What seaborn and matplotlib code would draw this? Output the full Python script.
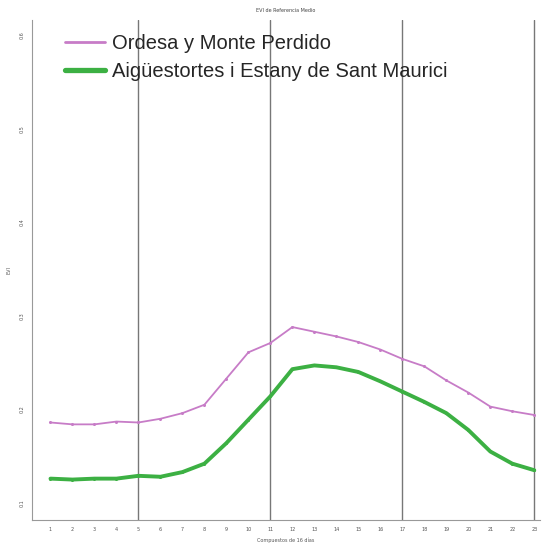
import matplotlib
matplotlib.use("Agg")
import matplotlib.pyplot as plt
import seaborn as sns
import pandas as pd
from matplotlib.lines import Line2D

compuestos = list(range(1, 24))
ordesa = [0.186, 0.184, 0.184, 0.187, 0.186, 0.190, 0.196, 0.205, 0.233, 0.261, 0.271,
          0.288, 0.283, 0.278, 0.272, 0.264, 0.254, 0.246, 0.231, 0.218, 0.203, 0.198, 0.194]
aiguestortes = [0.126, 0.125, 0.126, 0.126, 0.129, 0.128, 0.133, 0.142, 0.164, 0.189, 0.214,
                0.243, 0.247, 0.245, 0.240, 0.230, 0.219, 0.208, 0.196, 0.178, 0.155, 0.142, 0.135]
series_names = ["Ordesa y Monte Perdido", "Aigüestortes i Estany de Sant Maurici"]
y_ticks = [0.1, 0.2, 0.3, 0.4, 0.5, 0.6]
v_lines = [5, 11, 17, 23]

df = pd.DataFrame({
    "x": compuestos * 2,
    "evi": ordesa + aiguestortes,
    "parque": [series_names[0]] * len(compuestos) + [series_names[1]] * len(compuestos),
})

sns.set_style("white")
fig = plt.figure(figsize=(5.48, 5.46), dpi=100)
ax = fig.add_axes([0.058, 0.048, 0.927, 0.915])

palette = {series_names[0]: "#c77cc7", series_names[1]: "#3cb043"}
sizes = {series_names[0]: 1.3, series_names[1]: 2.8}
sns.lineplot(data=df, x="x", y="evi", hue="parque", size="parque", sizes=sizes,
             palette=palette, marker="o", markersize=2.2, markeredgewidth=0,
             ax=ax, legend=False)

for v in v_lines:
    ax.axvline(v, color="#777777", lw=1.0, zorder=0)

ax.set_xlim(0.15, 23.25)
ax.set_ylim(0.082, 0.616)
ax.set_xticks(compuestos)
ax.set_xticklabels([str(c) for c in compuestos], fontsize=3.5, color="#555555")
ax.set_yticks(y_ticks)
ax.set_yticklabels([f"{t:.1f}" for t in y_ticks], fontsize=3.5, rotation=90,
                   va="center", color="#555555")
ax.tick_params(length=2, width=0.5, color="#888888", pad=3)
ax.set_xlabel("Compuestos de 16 días", fontsize=3.5, color="#555555", labelpad=4)
ax.set_ylabel("EVI", fontsize=3.5, color="#555555", labelpad=6)
ax.set_title("EVI de Referencia Medio", fontsize=3.5, color="#444444", pad=6)

for s in ["top", "right"]:
    ax.spines[s].set_visible(False)
for s in ["left", "bottom"]:
    ax.spines[s].set_color("#999999")
    ax.spines[s].set_linewidth(0.8)

handles = [Line2D([0], [0], color=palette[series_names[0]], lw=2.0),
           Line2D([0], [0], color=palette[series_names[1]], lw=3.8)]
leg = ax.legend(handles, series_names, loc="upper left", bbox_to_anchor=(0.026, 1.012),
                frameon=False, prop={"family": "Liberation Sans", "size": 14.5},
                handlelength=2.0, handletextpad=0.35, labelspacing=0.45,
                borderaxespad=0.6)

fig.savefig("out.png", dpi=100)
